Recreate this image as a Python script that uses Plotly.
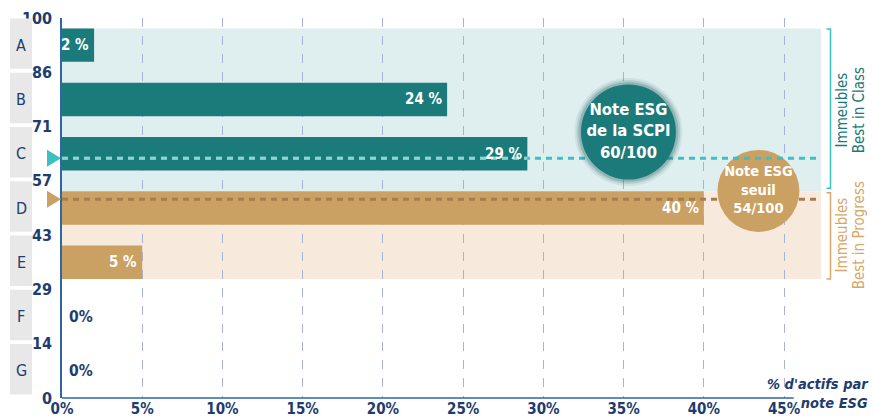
import plotly.graph_objects as go

# ---------------- data ----------------
grades = ["A", "B", "C", "D", "E", "F", "G"]
shares = [2, 24, 29, 40, 5, 0, 0]                      # % d'actifs par note ESG
share_labels = ["2 %", "24 %", "29 %", "40 %", "5 %", "0%", "0%"]
score_tick_labels = ["100", "86", "71", "57", "43", "29", "14", "0"]
x_tick_vals = [0, 5, 10, 15, 20, 25, 30, 35, 40, 45]
x_tick_labels = ["0%", "5%", "10%", "15%", "20%", "25%", "30%", "35%", "40%", "45%"]
best_in_class = ["A", "B", "C"]
best_in_progress = ["D", "E"]
scpi_level = 63.1          # level of the SCPI marker line as drawn
seuil_level = 52.3         # level of the threshold marker line as drawn
scpi_text = "Note ESG<br>de la SCPI<br>60/100"
seuil_text = "Note ESG<br>seuil<br>54/100"
scpi_bubble = (35.3, 70.0)
seuil_bubble = (43.4, 54.5)

# ---------------- styles ----------------
FONT = "DejaVu Sans Condensed, Noto Sans Condensed, Liberation Sans Narrow, sans-serif"
NAVY = "#1e3c6e"
AXIS = "#2f66a3"
TEAL = "#1b7a7a"
TEAL_L = "#3cc0c0"
GOLD = "#cba063"
GOLD_T = "#d4a96a"
n = len(grades)
band = 100 / n
bounds = [100 - k * band for k in range(n + 1)]
centers = [100 - (k + 0.5) * band for k in range(n)]
bar_w = 8.8
bar_colors = [TEAL if g in best_in_class else GOLD for g in grades]
XMAX = 47.3


def f(size, color, bold=False, italic=False):
    d = dict(family=FONT, size=size, color=color)
    if bold:
        d["weight"] = 700
    if italic:
        d["style"] = "italic"
    return d


fig = go.Figure()

# bars
fig.add_trace(go.Bar(x=shares, y=centers, orientation="h", width=bar_w,
                     marker=dict(color=bar_colors, line=dict(width=0)),
                     hoverinfo="skip"))

# threshold line (gold), then its bubble
fig.add_trace(go.Scatter(x=[0, XMAX], y=[seuil_level] * 2, mode="lines",
                         line=dict(color="#a87c50", width=3, dash="6px,5px"),
                         hoverinfo="skip"))
fig.add_trace(go.Scatter(x=[seuil_bubble[0]], y=[seuil_bubble[1]], mode="markers+text",
                         marker=dict(size=82, color=GOLD, line=dict(width=0)),
                         text=[seuil_text], textposition="middle center",
                         textfont=f(14.5, "white", bold=True),
                         cliponaxis=False, hoverinfo="skip"))

# SCPI line (teal) : lighter over the C bar
ci = grades.index("C")
fig.add_trace(go.Scatter(x=[0, XMAX], y=[scpi_level] * 2, mode="lines",
                         line=dict(color=TEAL_L, width=3, dash="6px,5px"),
                         hoverinfo="skip"))
fig.add_trace(go.Scatter(x=[0, shares[ci]], y=[scpi_level] * 2, mode="lines",
                         line=dict(color="#8fd3d3", width=3, dash="6px,5px"),
                         hoverinfo="skip"))
# SCPI bubble with soft dark glow
for s, a in [(108, 0.08), (104, 0.13), (100, 0.2)]:
    fig.add_trace(go.Scatter(x=[scpi_bubble[0]], y=[scpi_bubble[1]], mode="markers",
                             marker=dict(size=s, color=f"rgba(10,80,80,{a})", line=dict(width=0)),
                             cliponaxis=False, hoverinfo="skip"))
fig.add_trace(go.Scatter(x=[scpi_bubble[0]], y=[scpi_bubble[1]], mode="markers+text",
                         marker=dict(size=95, color=TEAL, line=dict(width=0)),
                         text=[scpi_text], textposition="middle center",
                         textfont=f(16.5, "white", bold=True),
                         cliponaxis=False, hoverinfo="skip"))

shapes = []
# background zones
top_class = centers[grades.index(best_in_class[0])] + bar_w / 2
mid = centers[grades.index(best_in_progress[0])] + bar_w / 2
bot_prog = centers[grades.index(best_in_progress[-1])] - bar_w / 2
shapes.append(dict(type="rect", xref="paper", yref="y", x0=0, x1=1, y0=mid, y1=top_class,
                   fillcolor="#dfeff0", line=dict(width=0), layer="below"))
shapes.append(dict(type="rect", xref="paper", yref="y", x0=0, x1=1, y0=bot_prog, y1=mid,
                   fillcolor="#f7eadc", line=dict(width=0), layer="below"))
# grade boxes on the left
for k in range(n):
    shapes.append(dict(type="rect", xref="paper", yref="y", x0=-0.0685, x1=-0.0395,
                       y0=bounds[k + 1] + 0.9, y1=bounds[k] - 0.1,
                       fillcolor="#e8e8e8", line=dict(width=0)))
# triangles pointing at the y axis
for lvl, col in [(scpi_level, TEAL_L), (seuil_level, GOLD)]:
    shapes.append(dict(type="path", xref="paper", yref="y",
                       path=f"M -0.0198,{lvl + 2.25} L -0.0013,{lvl} L -0.0198,{lvl - 2.25} Z",
                       fillcolor=col, line=dict(width=0)))
# x axis line
shapes.append(dict(type="line", xref="x", yref="paper", x0=0, x1=45.6, y0=0, y1=0,
                   line=dict(color=AXIS, width=1.5)))
# right brackets
bx, tx = 1.0125, 1.0073
for (y0, y1, col) in [(top_class - 0.15, mid + 0.8, TEAL_L), (mid - 0.4, bot_prog, GOLD_T)]:
    shapes.append(dict(type="path", xref="paper", yref="y",
                       path=f"M {tx},{y0} L {bx},{y0} L {bx},{y1} L {tx},{y1}",
                       line=dict(color=col, width=1.5)))

ann = []
# bar value labels
for v, c, lab in zip(shares, centers, share_labels):
    if v > 0:
        ann.append(dict(x=v, y=c, xref="x", yref="y", text=lab, showarrow=False,
                        xanchor="right", xshift=-3, font=f(15, "white", bold=True)))
    else:
        ann.append(dict(x=v, y=c, xref="x", yref="y", text=lab, showarrow=False,
                        xanchor="left", xshift=5, font=f(15.5, NAVY, bold=True)))
# grade letters
for g, c in zip(grades, centers):
    ann.append(dict(x=-0.054, y=c, xref="paper", yref="y", text=g, showarrow=False,
                    xanchor="center", yanchor="middle", font=f(16, NAVY)))
# rotated group labels
for txt, xp, yv, col in [("Immeubles", 1.0270, 75.8, TEAL), ("Best in Class", 1.0505, 75.8, TEAL),
                         ("Immeubles", 1.0270, 42.9, GOLD_T), ("Best in Progress", 1.0505, 42.9, GOLD_T)]:
    ann.append(dict(x=xp, y=yv, xref="paper", yref="y", text=txt, showarrow=False,
                    xanchor="center", yanchor="middle",
                    textangle=-90, font=f(15, col)))
# axis title
ann.append(dict(x=1.066, y=0.012, xref="paper", yref="paper", text="% d'actifs par<br>note ESG",
                showarrow=False, xanchor="right", yanchor="middle", align="right",
                font=f(14.5, NAVY, bold=True, italic=True)))

fig.update_layout(
    width=873, height=419,
    margin=dict(l=62, r=52, t=18, b=21),
    plot_bgcolor="white", paper_bgcolor="white",
    showlegend=False,
    shapes=shapes, annotations=ann,
    font=dict(family=FONT, color=NAVY),
    xaxis=dict(range=[0, XMAX], tickvals=x_tick_vals, ticktext=x_tick_labels,
               showgrid=True, gridcolor="#a8b2d2", griddash="dash", gridwidth=1,
               zeroline=False, showline=False, ticks="", automargin=False,
               tickfont=f(15, NAVY, bold=True)),
    yaxis=dict(range=[0, 100], tickvals=bounds, ticktext=score_tick_labels,
               showgrid=False, zeroline=False, showline=True, linecolor=AXIS, linewidth=1.5,
               ticks="", ticklabelstandoff=5, automargin=False,
               tickfont=f(16, NAVY, bold=True)),
)

fig.write_html("out.html", post_script="document.body.style.margin='0';",
               config={"displayModeBar": False})
